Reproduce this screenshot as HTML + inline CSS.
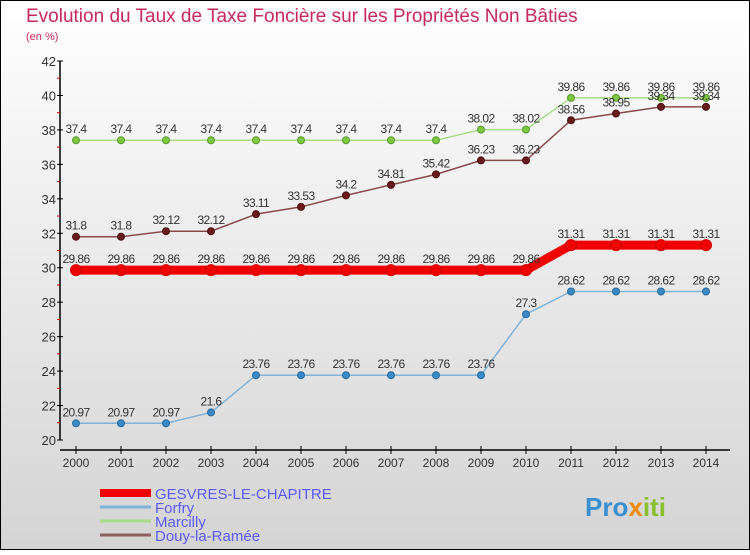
<!DOCTYPE html>
<html><head><meta charset="utf-8"><style>
html,body{margin:0;padding:0}
body{width:750px;height:550px;overflow:hidden;font-family:"Liberation Sans",sans-serif}
</style></head><body>
<svg id="chart" width="750" height="550" xmlns="http://www.w3.org/2000/svg" font-family="Liberation Sans, sans-serif">
<defs><linearGradient id="bg" x1="0" y1="0" x2="0" y2="1"><stop offset="0" stop-color="#ffffff"/><stop offset="1" stop-color="#d4d4d4"/></linearGradient></defs>
<rect x="0.5" y="0.5" width="749" height="549" fill="url(#bg)" stroke="#000"/>
<text x="26" y="22" font-size="19" fill="#c8285a">Evolution du Taux de Taxe Foncière sur les Propriétés Non Bâties</text>
<text x="26" y="40" font-size="11" fill="#c8285a">(en %)</text>
<g id="axes"></g>
<g id="series"></g>
<g id="legend"></g>
<text x="585" y="516" font-size="26" font-weight="bold" fill="#3a8fd0">Pro<tspan fill="#f08a00">x</tspan><tspan fill="#8ac030">iti</tspan></text>
</svg>
<script>
const years=[2000,2001,2002,2003,2004,2005,2006,2007,2008,2009,2010,2011,2012,2013,2014];
const yTicks=[20,22,24,26,28,30,32,34,36,38,40,42];
const gesvres=[29.86,29.86,29.86,29.86,29.86,29.86,29.86,29.86,29.86,29.86,29.86,31.31,31.31,31.31,31.31];
const forfry=[20.97,20.97,20.97,21.6,23.76,23.76,23.76,23.76,23.76,23.76,27.3,28.62,28.62,28.62,28.62];
const marcilly=[37.4,37.4,37.4,37.4,37.4,37.4,37.4,37.4,37.4,38.02,38.02,39.86,39.86,39.86,39.86];
const douy=[31.8,31.8,32.12,32.12,33.11,33.53,34.2,34.81,35.42,36.23,36.23,38.56,38.95,39.34,39.34];
const NS="http://www.w3.org/2000/svg";
const xs=i=>76+i*45;
const ys=v=>440-(v-20)*(379/22);
function mk(tag,attrs,parent){const e=document.createElementNS(NS,tag);for(const k in attrs)e.setAttribute(k,attrs[k]);parent.appendChild(e);return e;}
const axes=document.getElementById('axes');
let yl=mk('line',{x1:60,y1:61,x2:60,y2:440,stroke:'#000','stroke-width':1.5},axes);


yTicks.forEach((t,i)=>{
 mk('line',{x1:57,x2:63,y1:ys(t),y2:ys(t),stroke:'#000'},axes);
 if(i<yTicks.length-1)mk('line',{x1:57,x2:60,y1:ys(t+1),y2:ys(t+1),stroke:'#e00'},axes);
 const tx=mk('text',{x:56,y:ys(t)+5,'font-size':13,fill:'#333','text-anchor':'end'},axes);tx.textContent=t;
 
 
});
let xl=mk('line',{x1:60,y1:450,x2:730,y2:450,stroke:'#000','stroke-width':1.5},axes);


years.forEach((y,i)=>{
 mk('line',{x1:xs(i),x2:xs(i),y1:446,y2:454,stroke:'#000'},axes);
 const tx=mk('text',{x:xs(i),y:467,'font-size':12,fill:'#333','text-anchor':'middle'},axes);tx.textContent=y;
 
 
});
const ser=document.getElementById('series');
function draw(name,data,color,width,dot,dotStroke,r){
 const g=mk('g',{},ser);
 
 
 const pl=mk('polyline',{points:data.map((v,i)=>xs(i)+','+ys(v)).join(' '),fill:'none',stroke:color,'stroke-width':width},g);
 
 
 data.forEach((v,i)=>{
  const c=mk('circle',{cx:xs(i),cy:ys(v),r:r,fill:dot,stroke:dotStroke},g);
  
  
  const t=mk('text',{x:xs(i),y:ys(v)-7,'font-size':12,fill:'#333','text-anchor':'middle','letter-spacing':'-0.6'},g);t.textContent=v;
  
  
 });
}
draw('forfry',forfry,'#7fb3d8',1.5,'#3a8ac8','#2a6a9a',3.5);
draw('marcilly',marcilly,'#a8dc88',1.5,'#7cc840','#5a9a30',3.5);
draw('douy',douy,'#8a4a4a',1.5,'#6a1a1a','#4a1010',3.5);
draw('gesvres',gesvres,'#f00000',9,'#f00000','#d00000',5.5);
const lg=document.getElementById('legend');
const items=[['GESVRES-LE-CHAPITRE','#f00000',8],['Forfry','#7fb3d8',3],['Marcilly','#a8dc88',3],['Douy-la-Ramée','#8a6060',3]];
items.forEach((it,i)=>{
 const y=493+i*14;
 const g=mk('g',{},lg);
 
 
 mk('line',{x1:100,x2:151,y1:y,y2:y,stroke:it[1],'stroke-width':it[2]},g);
 const t=mk('text',{x:155,y:y+6,'font-size':15,fill:'#5a5aff'},g);t.textContent=it[0];
});
</script>
</body></html>
